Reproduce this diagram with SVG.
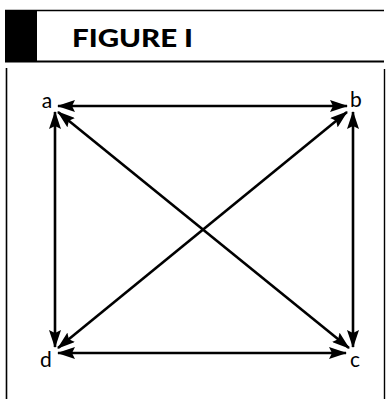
<svg xmlns="http://www.w3.org/2000/svg" width="387" height="399" viewBox="0 0 387 399">
<style>
.frame{stroke:#000;fill:none}
.conn{stroke:#000;stroke-width:2.6;fill:none;marker-start:url(#ah);marker-end:url(#ah)}
.lbl{font-family:Lato,"Liberation Sans",sans-serif;font-weight:400;font-size:21px;fill:#000}
.title{font-family:Lato,"Liberation Sans",sans-serif;font-weight:900;font-size:25px;fill:#000}
</style>
<defs>
<marker id="ah" viewBox="0 0 18 12" refX="17" refY="6" markerWidth="18" markerHeight="12" markerUnits="userSpaceOnUse" orient="auto-start-reverse">
<path d="M0,0 L18,6 L0,12 L3,6 Z" fill="#000"/>
</marker>
</defs>
<rect width="387" height="399" fill="#fff"/>
<g id="header">
<rect x="5" y="10" width="32" height="52" fill="#000"/>
<line class="frame" x1="5" y1="10.5" x2="384" y2="10.5" stroke-width="1.5"/>
<line class="frame" x1="5" y1="61.5" x2="384" y2="61.5" stroke-width="1.8"/>
<text class="title" x="72" y="47" textLength="121" lengthAdjust="spacingAndGlyphs">FIGURE I</text>
</g>
<g id="frame">
<line class="frame" x1="6.5" y1="68" x2="6.5" y2="399" stroke-width="1.6"/>
<line class="frame" x1="384.5" y1="69" x2="384.5" y2="399" stroke-width="1.4"/>
</g>
<g id="connectors">
<line class="conn" x1="58" y1="106" x2="347" y2="106"/>
<line class="conn" x1="55" y1="112" x2="55" y2="347"/>
<line class="conn" x1="353" y1="112" x2="353" y2="347"/>
<line class="conn" x1="58" y1="353" x2="346" y2="353"/>
<line class="conn" x1="58" y1="112" x2="349" y2="348"/>
<line class="conn" x1="347" y1="112" x2="58" y2="348"/>
</g>
<g id="node-a"><text class="lbl" x="47" y="108" text-anchor="middle">a</text></g>
<g id="node-b"><text class="lbl" x="356" y="107" text-anchor="middle">b</text></g>
<g id="node-d"><text class="lbl" x="46" y="367" text-anchor="middle">d</text></g>
<g id="node-c"><text class="lbl" x="355" y="367" text-anchor="middle">c</text></g>
</svg>
